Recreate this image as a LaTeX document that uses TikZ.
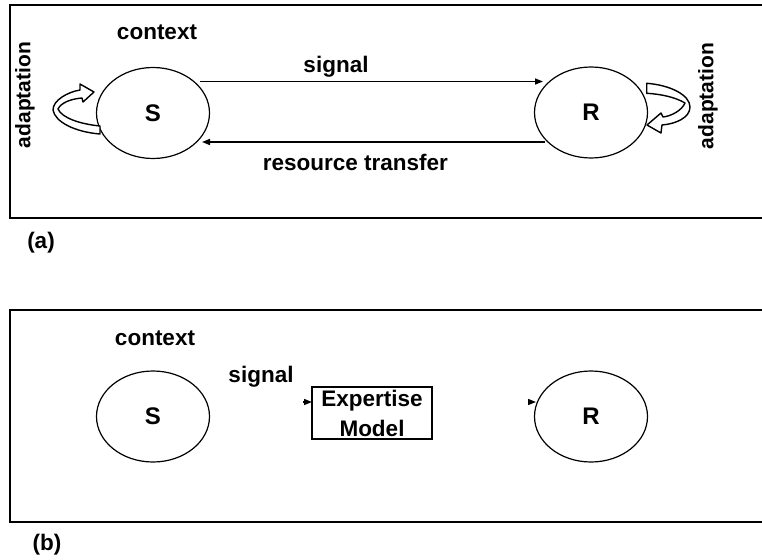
\documentclass[tikz,border=0pt]{standalone}
\usepackage{fontspec}
\setmainfont{Liberation Sans}
\usetikzlibrary{shapes.geometric,arrows.meta}
\begin{document}
\begin{tikzpicture}[x=1pt,y=-1pt,
  every node/.style={font=\fontsize{22.5}{26}\selectfont\bfseries, inner sep=0pt, outer sep=0pt},
  panel/.style={draw, line width=2pt},
  party/.style={ellipse, draw, line width=1.2pt, minimum width=113pt, minimum height=91pt, font=\fontsize{24}{28}\selectfont\bfseries},
  flow/.style={line width=1.5pt, -{Triangle[length=8pt,width=6pt]}},
  bendarrow/.style={draw, fill=white, line width=1.4pt, line join=round},
  sidelabel/.style={rotate=90, font=\fontsize{21}{25}\selectfont\bfseries},
  modelbox/.style={draw, line width=1.8pt, minimum width=120pt, minimum height=52pt, align=center, font=\fontsize{22.5}{30}\selectfont\bfseries}
]
\useasboundingbox (0,0) rectangle (762,559);
\fill[white] (0,0) rectangle (762,559);
\begin{scope}
  \clip (0,0) rectangle (762,559);
  \draw[panel] (9.5,5) rectangle (790,218);
  \draw[panel] (9.5,310) rectangle (790,522);
\end{scope}

% ---------- panel (a)
\node[party] (Sa) at (153,113) {S};
\node[party] (Ra) at (591,112.5) {R};
\node[anchor=base] (ctxa) at (157,40) {context};
\node[anchor=base] (siga) at (336,73) {signal};
\node[anchor=base] (resa) at (355.5,170) {resource transfer};
\node[sidelabel] (adl) at (25,95) {adaptation};
\node[sidelabel] (adr) at (708,96) {adaptation};
\node (laba) at (41,243) {(a)};

\coordinate (sigS) at (200,81.5);
\coordinate (sigR) at (543,81.5);
\coordinate (resR) at (545,142);
\coordinate (resS) at (202,142);
\draw[flow] (sigS) -- (sigR);
\draw[flow] (resR) -- (resS);

% left adaptation arrow
\path[bendarrow] (100,134) .. controls (75,132) and (55,122) .. (53,110)
  .. controls (53,100) and (68,92) .. (80,90) -- (80,84) -- (94,92) -- (83,102) -- (82,98)
  .. controls (70,99) and (61,103) .. (58,109)
  .. controls (62,118) and (80,124) .. (100,126) -- cycle;
% right adaptation arrow
\path[bendarrow] (646.7,83.3) .. controls (670,85) and (690,95) .. (690,107)
  .. controls (690,118) and (675,124) .. (662,125) -- (661,133) -- (647,125) -- (661,113) -- (663,117)
  .. controls (672,116) and (682,110) .. (685,103)
  .. controls (675,97) and (660,94) .. (646.7,93.3) -- cycle;

% ---------- panel (b)
\node[party] (Sb) at (153,416.5) {S};
\node[party] (Rb) at (591,416.5) {R};
\node[anchor=base] (ctxb) at (155,345) {context};
\node[anchor=base] (sigb) at (261,382) {signal};
\node[modelbox] (EM) at (372,413) {Expertise\\Model};
\node (labb) at (47,545) {(b)};

\coordinate (sb1) at (303,402);
\coordinate (sb2) at (528,402);
\coordinate (sb2e) at (536,402);
\draw[flow] (sb1) -- (sb1 -| EM.west);
\draw[flow] (sb2) -- (sb2e);
\end{tikzpicture}
\end{document}
